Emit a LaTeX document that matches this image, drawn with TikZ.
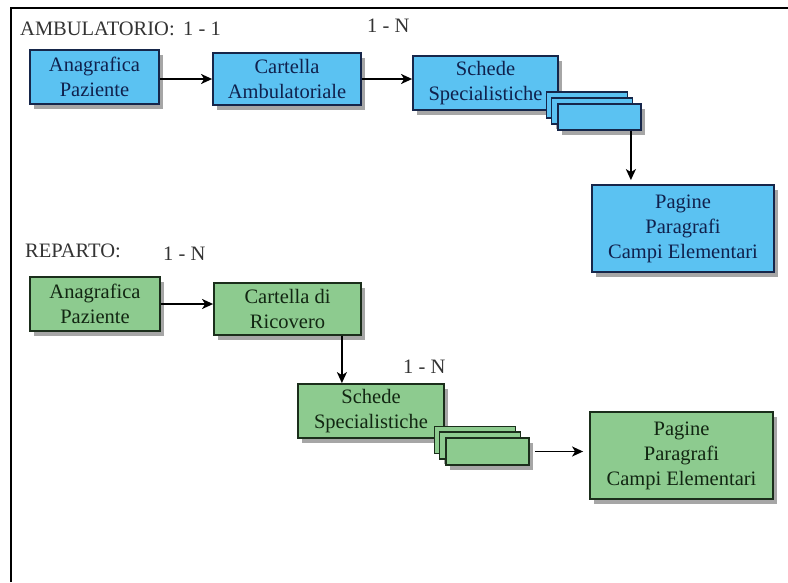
\documentclass[tikz,border=0pt]{standalone}
\usepackage{fontspec}
\setmainfont{Liberation Serif}
\usetikzlibrary{arrows.meta,shadows}

\definecolor{celeste}{HTML}{5BC2F2}
\definecolor{verdino}{HTML}{8DCB8F}
\definecolor{bordoblu}{HTML}{16264A}
\definecolor{bordoverde}{HTML}{1B2E1B}
\definecolor{testoblu}{HTML}{10214D}
\definecolor{testoverde}{HTML}{122612}

\tikzset{
  scheda/.style={draw, line width=1.8pt, align=center, inner sep=0pt,
    font=\fontsize{20.5}{25}\selectfont,
    drop shadow={shadow xshift=4pt, shadow yshift=-5pt, opacity=0.7}},
  blu/.style={scheda, fill=celeste, draw=bordoblu, text=testoblu},
  verde/.style={scheda, fill=verdino, draw=bordoverde, text=testoverde},
  freccia/.style={line width=1.7pt, -{Stealth[length=11pt,width=10pt,inset=3pt]}},
  titolo/.style={anchor=base west, inner sep=0pt,
    font=\fontsize{20.5}{25}\selectfont, text=black!80}
}

\begin{document}
\begin{tikzpicture}[x=1pt,y=-1pt]
  \useasboundingbox (0,0) rectangle (788,582);
  % cornice
  \draw[line width=2.2pt] (11,582) -- (11,8) -- (788,8);

  % ambulatorio
  \node[titolo] (tamb) at (20,35) {AMBULATORIO:};
  \node[titolo] (namb1) at (183,35) {1 - 1};
  \node[titolo] (namb2) at (367,32) {1 - N};

  \node[blu, minimum width=129pt, minimum height=54pt] (a1) at (94.5,77) {Anagrafica\\Paziente};
  \node[blu, minimum width=148pt, minimum height=52pt] (a2) at (287,79) {Cartella\\Ambulatoriale};
  \node[blu, minimum width=145pt, minimum height=54pt] (a3) at (485.5,83) {Schede\\Specialistiche};
  \node[blu, minimum width=81pt, minimum height=26pt] (sa1) at (587,105) {};
  \node[blu, minimum width=81pt, minimum height=26pt] (sa2) at (592,111) {};
  \node[blu, minimum width=83pt, minimum height=26pt] (sa3) at (599.5,117) {};
  \node[blu, minimum width=182pt, minimum height=87pt] (a4) at (683,228.5) {Pagine\\Paragrafi\\Campi Elementari};

  \draw[freccia] (a2.west -| a1.east) -- (a2.west);
  \draw[freccia] (a2.east) -- (a2.east -| a3.west);
  \draw[freccia, shorten >=4pt] ([xshift=-11pt]sa3.south east) -- ([xshift=-11pt]sa3.south east |- a4.north);

  % reparto
  \node[titolo] (trep) at (25,257) {REPARTO:};
  \node[titolo] (nrep1) at (163,260) {1 - N};
  \node[titolo] (nrep2) at (403,373) {1 - N};

  \node[verde, minimum width=130pt, minimum height=54pt] (g1) at (95,304) {Anagrafica\\Paziente};
  \node[verde, minimum width=147pt, minimum height=52pt] (g2) at (287.5,309) {Cartella di\\Ricovero};
  \node[verde, minimum width=146pt, minimum height=54pt] (g3) at (371,411) {Schede\\Specialistiche};
  \node[verde, minimum width=81pt, minimum height=27pt] (sg1) at (475,440) {};
  \node[verde, minimum width=81pt, minimum height=27pt] (sg2) at (480,445.5) {};
  \node[verde, minimum width=83pt, minimum height=27pt] (sg3) at (487.5,451.5) {};
  \node[verde, minimum width=183pt, minimum height=87pt] (g4) at (681.5,455.5) {Pagine\\Paragrafi\\Campi Elementari};

  \draw[freccia] (g1.east) -- (g1.east -| g2.west);
  \draw[freccia] ([xshift=-20pt]g2.south east) -- ([xshift=-20pt]g2.south east |- g3.north);
  \draw[freccia, shorten <=5pt, shorten >=6pt] (sg3.east) -- (sg3.east -| g4.west);
\end{tikzpicture}
\end{document}
